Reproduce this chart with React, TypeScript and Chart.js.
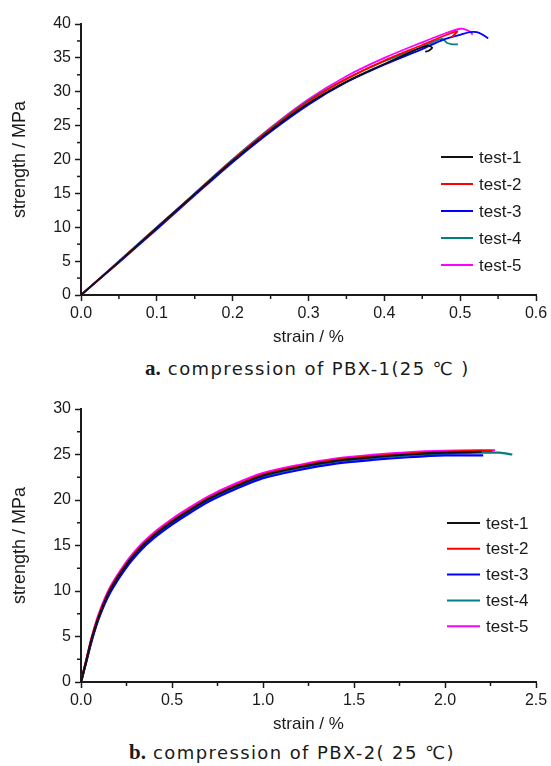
import React, { useEffect, useRef } from "react";
import { Chart, registerables } from "chart.js";

Chart.register(...registerables);

const SERIES_LABELS = ["test-1", "test-2", "test-3", "test-4", "test-5"];
const SERIES_COLORS = ["#111111", "#ff0000", "#0000ff", "#008080", "#ff00ff"];

// ---------- a. PBX-1 ----------
const aStrain1 = [0, 0.05, 0.1, 0.15, 0.2, 0.25, 0.3, 0.35, 0.4, 0.43, 0.456, 0.463, 0.459, 0.454];
const aStress1 = [0, 4.9, 9.9, 14.9, 19.8, 24.3, 28.3, 31.5, 34.1, 35.6, 36.8, 36.5, 36.1, 35.9];
const aStrain2 = [0, 0.05, 0.1, 0.15, 0.2, 0.25, 0.3, 0.35, 0.4, 0.45, 0.48, 0.496, 0.492, 0.488];
const aStress2 = [0, 4.9, 9.9, 14.9, 19.9, 24.5, 28.6, 31.9, 34.6, 36.9, 38.3, 38.9, 38.4, 38.0];
const aStrain3 = [0, 0.05, 0.1, 0.15, 0.2, 0.25, 0.3, 0.35, 0.4, 0.45, 0.478, 0.5, 0.513, 0.522, 0.53, 0.537];
const aStress3 = [0, 4.8, 9.7, 14.7, 19.6, 24.1, 28.1, 31.4, 34.0, 36.3, 37.7, 38.4, 38.8, 38.8, 38.4, 37.9];
const aStrain4 = [0, 0.05, 0.1, 0.15, 0.2, 0.25, 0.3, 0.35, 0.4, 0.45, 0.476, 0.483, 0.49, 0.497];
const aStress4 = [0, 5.0, 10.0, 15.0, 20.0, 24.6, 28.7, 31.9, 34.5, 36.6, 37.8, 37.2, 37.0, 37.0];
const aStrain5 = [0, 0.05, 0.1, 0.15, 0.2, 0.25, 0.3, 0.35, 0.4, 0.45, 0.48, 0.5, 0.509, 0.515, 0.516];
const aStress5 = [0, 5.0, 10.0, 15.0, 20.0, 24.7, 28.9, 32.3, 35.0, 37.3, 38.6, 39.3, 39.1, 38.7, 38.4];

// ---------- b. PBX-2 ----------
const bStrain1 = [0, 0.03, 0.06, 0.1, 0.16, 0.25, 0.33, 0.4, 0.5, 0.6, 0.7, 0.85, 1.0, 1.2, 1.4, 1.6, 1.8, 2.0, 2.2];
const bStress1 = [0, 2.4, 4.8, 7.3, 10.1, 12.9, 14.8, 16.1, 17.6, 18.9, 20.1, 21.5, 22.7, 23.6, 24.3, 24.7, 25.0, 25.2, 25.3];
const bStrain2 = [0, 0.03, 0.06, 0.1, 0.16, 0.25, 0.33, 0.4, 0.5, 0.6, 0.7, 0.85, 1.0, 1.2, 1.4, 1.6, 1.8, 2.0, 2.2, 2.26];
const bStress2 = [0, 2.45, 4.9, 7.4, 10.2, 13.0, 14.9, 16.2, 17.7, 19.0, 20.2, 21.6, 22.8, 23.7, 24.4, 24.8, 25.1, 25.3, 25.4, 25.4];
const bStrain3 = [0, 0.03, 0.06, 0.1, 0.16, 0.25, 0.33, 0.4, 0.5, 0.6, 0.7, 0.85, 1.0, 1.2, 1.4, 1.6, 1.8, 2.0, 2.21];
const bStress3 = [0, 2.3, 4.6, 7.1, 9.8, 12.6, 14.5, 15.8, 17.3, 18.6, 19.8, 21.2, 22.4, 23.3, 24.0, 24.4, 24.7, 24.9, 24.9];
const bStrain4 = [0, 0.03, 0.06, 0.1, 0.16, 0.25, 0.33, 0.4, 0.5, 0.6, 0.7, 0.85, 1.0, 1.2, 1.4, 1.6, 1.8, 2.0, 2.2, 2.3, 2.37];
const bStress4 = [0, 2.35, 4.7, 7.2, 10.0, 12.8, 14.7, 16.0, 17.5, 18.8, 20.0, 21.4, 22.6, 23.5, 24.2, 24.6, 24.9, 25.1, 25.2, 25.2, 25.0];
const bStrain5 = [0, 0.03, 0.06, 0.1, 0.16, 0.25, 0.33, 0.4, 0.5, 0.6, 0.7, 0.85, 1.0, 1.2, 1.4, 1.6, 1.8, 2.0, 2.2, 2.275];
const bStress5 = [0, 2.5, 5.0, 7.6, 10.4, 13.2, 15.1, 16.4, 17.9, 19.2, 20.4, 21.8, 22.95, 23.85, 24.55, 24.95, 25.25, 25.4, 25.45, 25.45];

const FONT = "'Liberation Sans', Arial, sans-serif";
const INK = "#1a1a1a";

Chart.defaults.font.family = FONT;

function pairs(xs: number[], ys: number[]) {
  return xs.map((x, i) => ({ x, y: ys[i] }));
}

const minorTicksPlugin = {
  id: "minorTicks",
  afterDraw(chart: any, _args: any, opts: any) {
    const { ctx } = chart;
    const xs = chart.scales.x;
    const ys = chart.scales.y;
    ctx.save();
    ctx.strokeStyle = INK;
    ctx.lineWidth = 1.5;
    const n = Math.round((xs.max - xs.min) / opts.xStep);
    for (let i = 0; i < n; i++) {
      const px = xs.getPixelForValue(xs.min + (i + 0.5) * opts.xStep);
      ctx.beginPath();
      ctx.moveTo(px, xs.top);
      ctx.lineTo(px, xs.top + 4);
      ctx.stroke();
    }
    const m = Math.round((ys.max - ys.min) / opts.yStep);
    for (let i = 0; i < m; i++) {
      const py = ys.getPixelForValue(ys.min + (i + 0.5) * opts.yStep);
      ctx.beginPath();
      ctx.moveTo(ys.right, py);
      ctx.lineTo(ys.right - 4, py);
      ctx.stroke();
    }
    ctx.restore();
  },
};

const legendPlugin = {
  id: "customLegend",
  afterDraw(chart: any, _args: any, o: any) {
    const ctx = chart.ctx;
    ctx.save();
    ctx.font = `17px ${FONT}`;
    ctx.textBaseline = "middle";
    ctx.textAlign = "left";
    chart.data.datasets.forEach((ds: any, i: number) => {
      const y = o.y0 + i * o.dy;
      ctx.strokeStyle = ds.borderColor;
      ctx.lineWidth = 2;
      ctx.beginPath();
      ctx.moveTo(o.x1, y);
      ctx.lineTo(o.x2, y);
      ctx.stroke();
      ctx.fillStyle = INK;
      ctx.fillText(ds.label, o.tx, y + 1);
    });
    ctx.restore();
  },
};

function makeConfig(
  xsList: number[][],
  ysList: number[][],
  xMax: number,
  xStep: number,
  yMax: number,
  yStep: number,
  lineW: number,
  legend: any
): any {
  return {
    type: "line",
    data: {
      datasets: xsList.map((xs, i) => ({
        label: SERIES_LABELS[i],
        data: pairs(xs, ysList[i]),
        borderColor: SERIES_COLORS[i],
        backgroundColor: SERIES_COLORS[i],
        borderWidth: lineW,
        pointRadius: 0,
        tension: 0.3,
        fill: false,
      })),
    },
    options: {
      responsive: false,
      animation: false,
      parsing: false,
      layout: { padding: { top: 24, right: 15, left: 0, bottom: 0 } },
      plugins: {
        legend: { display: false },
        tooltip: { enabled: false },
        minorTicks: { xStep, yStep },
        customLegend: legend,
      },
      scales: {
        x: {
          type: "linear",
          min: 0,
          max: xMax,
          ticks: {
            stepSize: xStep,
            color: INK,
            font: { size: 16, family: FONT },
            padding: 3,
            maxRotation: 0,
            autoSkip: false,
            callback: (v: any) => Number(v).toFixed(1),
          },
          grid: {
            display: true,
            drawOnChartArea: false,
            drawTicks: true,
            tickLength: 6,
            tickWidth: 1.5,
            tickColor: INK,
            color: INK,
          },
          border: { display: true, color: INK, width: 2 },
          title: {
            display: true,
            text: "strain / %",
            color: INK,
            font: { size: 17, family: FONT },
            padding: { top: 0, bottom: 2 },
          },
          afterFit: (s: any) => {
            s.height = 55;
          },
        },
        y: {
          type: "linear",
          min: 0,
          max: yMax,
          ticks: {
            stepSize: yStep,
            color: INK,
            font: { size: 16, family: FONT },
            padding: 4,
            callback: (v: any) => String(v),
          },
          grid: {
            display: true,
            drawOnChartArea: false,
            drawTicks: true,
            tickLength: 6,
            tickWidth: 1.5,
            tickColor: INK,
            color: INK,
          },
          border: { display: true, color: INK, width: 2 },
          title: {
            display: true,
            text: "strength / MPa",
            color: INK,
            font: { size: 18, family: FONT },
            padding: { top: 9, bottom: 0 },
          },
          afterFit: (s: any) => {
            s.width = 81;
          },
        },
      },
    },
    plugins: [minorTicksPlugin, legendPlugin],
  };
}

function ChartCanvas({ config, top, height }: { config: any; top: number; height: number }) {
  const ref = useRef<HTMLCanvasElement | null>(null);
  useEffect(() => {
    if (!ref.current) return;
    const chart = new Chart(ref.current, config);
    return () => chart.destroy();
  }, [config]);
  return (
    <canvas
      ref={ref}
      width={551}
      height={height}
      style={{ position: "absolute", left: 0, top, width: 551, height }}
    />
  );
}

const configA = makeConfig(
  [aStrain1, aStrain2, aStrain3, aStrain4, aStrain5],
  [aStress1, aStress2, aStress3, aStress4, aStress5],
  0.6,
  0.1,
  40,
  5,
  1.8,
  { x1: 441, x2: 473, tx: 479, y0: 157, dy: 27 }
);

const configB = makeConfig(
  [bStrain1, bStrain2, bStrain3, bStrain4, bStrain5],
  [bStress1, bStress2, bStress3, bStress4, bStress5],
  2.5,
  0.5,
  30,
  5,
  2.2,
  { x1: 447, x2: 480, tx: 486, y0: 138, dy: 25.8 }
);

const captionStyle: React.CSSProperties = {
  position: "absolute",
  whiteSpace: "nowrap",
  fontFamily: "'DejaVu Sans', 'Noto Sans', sans-serif",
  fontSize: 18,
  letterSpacing: "1.4px",
  color: "#1a1a1a",
  lineHeight: "22px",
};
const boldStyle: React.CSSProperties = {
  fontFamily: "'Liberation Serif', 'Times New Roman', serif",
  fontWeight: "bold",
  fontSize: 21,
  letterSpacing: "0px",
};

export default function App() {
  return (
    <div
      style={{
        position: "absolute",
        left: 0,
        top: 0,
        width: 551,
        height: 766,
        background: "#ffffff",
        overflow: "hidden",
      }}
    >
      <ChartCanvas config={configA} top={0} height={350} />
      <div style={{ ...captionStyle, left: 145, top: 357 }}>
        <span style={boldStyle}>a.</span> compression of PBX-1(25 ℃ )
      </div>
      <ChartCanvas config={configB} top={385} height={352} />
      <div style={{ ...captionStyle, left: 129, top: 741 }}>
        <span style={boldStyle}>b.</span> compression of PBX-2( 25 ℃)
      </div>
    </div>
  );
}
